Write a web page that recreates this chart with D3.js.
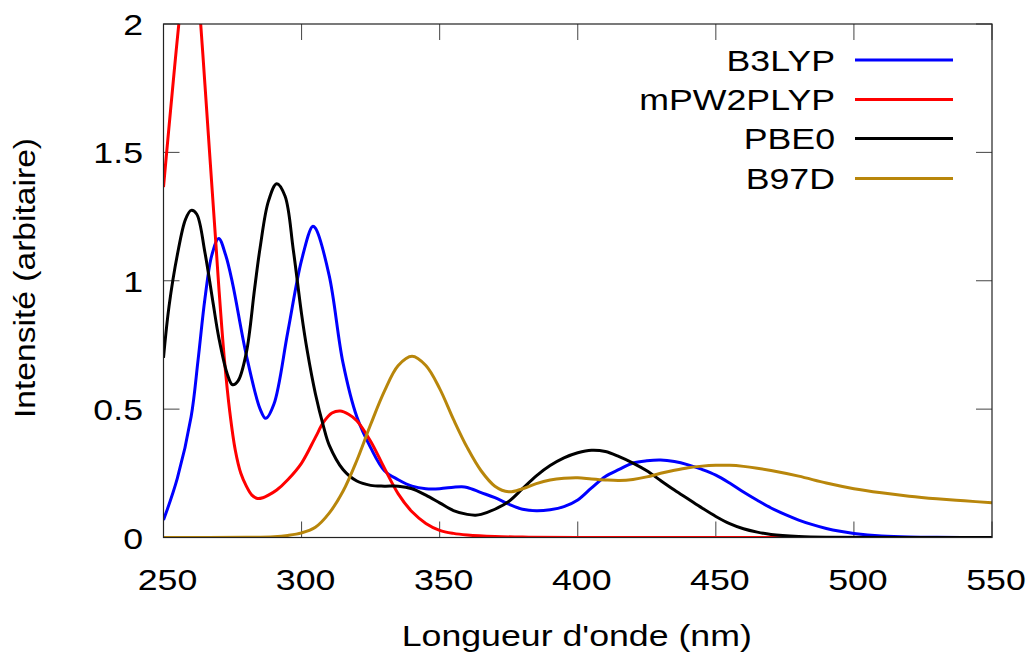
<!DOCTYPE html>
<html>
<head>
<meta charset="utf-8">
<script src="https://cdn.jsdelivr.net/npm/d3@7"></script>
<style>
  html, body { margin: 0; padding: 0; background: #fff; }
  svg { display: block; }
  text { font-family: "Liberation Sans", Arial, sans-serif; fill: #000; }
</style>
</head>
<body>
<svg id="chart" width="1027" height="654"></svg>
<script>
const seriesNames = ["B3LYP", "mPW2PLYP", "PBE0", "B97D"];
const seriesColors = ["#0000ff", "#ff0000", "#000000", "#b8860b"];

const xTicks = [250, 300, 350, 400, 450, 500, 550];
const yTicks = [0, 0.5, 1, 1.5, 2];
const yTickLabels = ["0", "0.5", "1", "1.5", "2"];

// B3LYP
const b3lypX = [250,255,260,262.5,265,267.5,270,272.5,275,280,285,287,290,295,300,304,305,310,315,320,325,330,335,340,345,350,355,358,360,365,370,375,380,385,390,395,400,405,410,415,420,425,430,435,440,445,450,455,460,465,470,475,480,485,490,495,500,505,510,520,530,550];
const b3lypY = [0.068,0.23,0.47,0.69,0.93,1.10,1.165,1.10,0.99,0.71,0.50,0.464,0.52,0.80,1.08,1.212,1.205,1.02,0.68,0.47,0.35,0.26,0.225,0.20,0.19,0.19,0.196,0.198,0.195,0.175,0.155,0.13,0.11,0.104,0.108,0.12,0.146,0.193,0.238,0.265,0.29,0.299,0.302,0.296,0.283,0.265,0.243,0.212,0.177,0.145,0.115,0.09,0.068,0.05,0.035,0.024,0.016,0.01,0.006,0.002,0.0005,0];

// mPW2PLYP
const mpwX = [250,252,254,256,257.5,259.5,261.5,263,264,265,267,269,270,272,274,276,278,280,282,284,286,288,291,295,300,305,308,311,314,317,320,325,330,335,340,345,350,355,360,370,380,400,550];
const mpwY = [1.365,1.6,1.83,2.05,2.2,2.28,2.2,2.06,1.92,1.765,1.45,1.14,0.98,0.70,0.49,0.34,0.25,0.20,0.165,0.152,0.155,0.165,0.185,0.225,0.29,0.39,0.45,0.485,0.493,0.48,0.455,0.375,0.27,0.17,0.10,0.055,0.028,0.016,0.01,0.004,0.0015,0,0];

// PBE0
const pbe0X = [250,252,255,258,260,262,265,268,270,273,275,277,280,283,285,288,291,294,297,300,302,305,308,310,315,320,325,330,335,340,345,350,355,360,363,365,370,375,380,385,390,395,400,405,410,415,420,425,430,435,440,445,450,455,460,465,470,480,490,550];
const pbe0Y = [0.70,0.90,1.10,1.24,1.274,1.26,1.11,0.91,0.78,0.64,0.595,0.61,0.72,0.97,1.13,1.31,1.378,1.33,1.12,0.87,0.73,0.56,0.43,0.36,0.265,0.22,0.203,0.20,0.20,0.19,0.165,0.135,0.105,0.09,0.087,0.09,0.11,0.14,0.19,0.24,0.28,0.31,0.33,0.34,0.335,0.315,0.29,0.26,0.222,0.185,0.15,0.115,0.082,0.054,0.034,0.021,0.012,0.004,0.001,0];

// B97D
const b97dX = [250,280,290,295,300,305,310,315,320,325,330,335,340,345,350,355,360,365,370,375,380,385,390,395,400,405,410,415,420,425,430,435,440,445,450,455,460,465,470,480,490,500,510,520,530,540,550];
const b97dY = [0,0.0005,0.003,0.008,0.018,0.04,0.095,0.18,0.30,0.44,0.57,0.67,0.706,0.67,0.58,0.46,0.35,0.26,0.20,0.178,0.19,0.21,0.224,0.231,0.233,0.228,0.224,0.222,0.226,0.236,0.25,0.262,0.272,0.278,0.281,0.281,0.277,0.27,0.261,0.239,0.212,0.19,0.174,0.161,0.151,0.143,0.135];

const seriesX = [b3lypX, mpwX, pbe0X, b97dX];
const seriesY = [b3lypY, mpwY, pbe0Y, b97dY];

const svg = d3.select("#chart");
const L = 163.5, R = 992, T = 24, B = 537.5;
const x = d3.scaleLinear().domain([250, 550]).range([L, R]);
const y = d3.scaleLinear().domain([0, 2]).range([B, T]);
const tickLen = 16;
const fs = 30;
const sx = 1.19;

svg.append("defs").append("clipPath").attr("id", "clip")
  .append("rect").attr("x", L).attr("y", T).attr("width", R - L).attr("height", B - T);

// ticks (inward, mirrored)
const tg = svg.append("g").attr("stroke", "#444").attr("stroke-width", 1);
xTicks.forEach(t => {
  tg.append("line").attr("x1", x(t)).attr("x2", x(t)).attr("y1", B).attr("y2", B - tickLen);
  tg.append("line").attr("x1", x(t)).attr("x2", x(t)).attr("y1", T).attr("y2", T + tickLen);
});
yTicks.forEach(t => {
  tg.append("line").attr("x1", L).attr("x2", L + tickLen).attr("y1", y(t)).attr("y2", y(t));
  tg.append("line").attr("x1", R).attr("x2", R - tickLen).attr("y1", y(t)).attr("y2", y(t));
});

function label(px, py, anchor, str, dy) {
  svg.append("g").attr("transform", `translate(${px},${py}) scale(${sx},1)`)
    .append("text").attr("x", 0).attr("y", 0).attr("dy", dy || 0)
    .attr("text-anchor", anchor).attr("font-size", fs).text(str);
}

// tick labels
xTicks.forEach(t => label(x(t) + 4, 590, "middle", String(t)));
yTicks.forEach((t, i) => label(143, y(t), "end", yTickLabels[i], "0.37em"));

// axis titles
label((L + R) / 2 - 1, 645.5, "middle", "Longueur d'onde (nm)");
svg.append("g").attr("transform", `translate(35,278) rotate(-90) scale(1.12,1)`)
  .append("text").attr("text-anchor", "middle").attr("font-size", fs).text("Intensité (arbitaire)");

// curves
const line = d3.line().x(d => x(d[0])).y(d => y(d[1])).curve(d3.curveCatmullRom.alpha(0.5));
const cg = svg.append("g").attr("clip-path", "url(#clip)");
seriesNames.forEach((name, i) => {
  const pts = seriesX[i].map((v, j) => [v, seriesY[i][j]]);
  cg.append("path").datum(pts).attr("d", line)
    .attr("fill", "none").attr("stroke", seriesColors[i]).attr("stroke-width", 3)
    .attr("stroke-linejoin", "round");
});

// border
svg.append("rect").attr("x", L).attr("y", T).attr("width", R - L).attr("height", B - T)
  .attr("fill", "none").attr("stroke", "#222").attr("stroke-width", 1.2);

// legend
const legY = [60, 99.5, 138.5, 178.5];
seriesNames.forEach((name, i) => {
  label(835, legY[i], "end", name, "0.36em");
  svg.append("line").attr("x1", 855).attr("x2", 953).attr("y1", legY[i]).attr("y2", legY[i])
    .attr("stroke", seriesColors[i]).attr("stroke-width", 3);
});
</script>
</body>
</html>
